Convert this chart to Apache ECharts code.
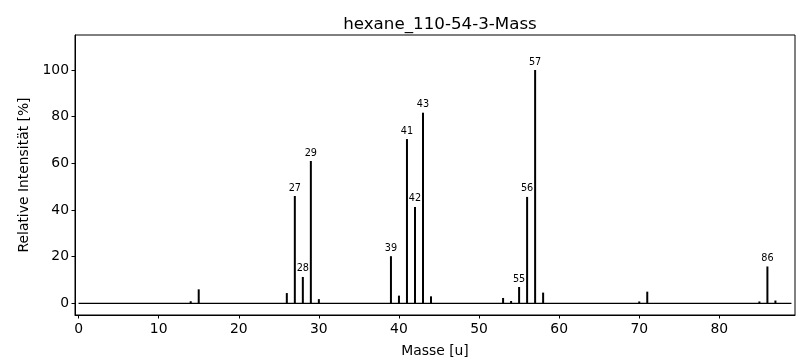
<!DOCTYPE html>
<html>
<head>
<meta charset="utf-8">
<script src="https://cdn.jsdelivr.net/npm/echarts@6/dist/echarts.min.js"></script>
<style>html,body{margin:0;padding:0;background:#fff}#c{width:804px;height:364px}</style>
</head>
<body>
<div id="c"></div>
<script>
const titleText = "hexane_110-54-3-Mass";
const xName = "Masse [u]";
const yName = "Relative Intensität [%]";
const masses = [14,15,26,27,28,29,30,39,40,41,42,43,44,53,54,55,56,57,58,70,71,85,86,87];
const intensities = [0.9,6.0,4.4,46,11.3,61,1.8,20.2,3.3,70.4,41.3,81.7,3.0,2.3,1.0,7.0,45.6,100,4.6,0.8,5.0,0.8,15.8,1.2];
const labeledMasses = [27,28,29,39,41,42,43,55,56,57,86];
const baselineRange = [0, 89];
const xTicks = [0,10,20,30,40,50,60,70,80];
const yTicks = [0,20,40,60,80,100];

const font = "DejaVu Sans";
const chart = echarts.init(document.getElementById('c'), null, {renderer:'canvas'});
const stemData = masses.map((m,i)=>({
  value:[m,intensities[i]],
  label:{show: labeledMasses.includes(m)}
}));
chart.setOption({
  animation:false,
  backgroundColor:'#fff',
  title:{text:titleText,left:435,textAlign:'center',top:11,
    textStyle:{fontFamily:font,fontSize:16.7,fontWeight:'normal',color:'#000'}},
  grid:{left:75,right:9,top:35,bottom:49,show:true,borderColor:'#000',borderWidth:1,backgroundColor:'transparent'},
  xAxis:{type:'value',min:-0.445,max:89.445,
    name:xName,nameLocation:'middle',nameGap:29,
    nameTextStyle:{fontFamily:font,fontSize:13.9,color:'#000'},
    axisLine:{show:true,onZero:false,lineStyle:{color:'#000',width:1}},
    axisTick:{show:true,length:3.5,customValues:xTicks,lineStyle:{color:'#000'}},
    axisLabel:{customValues:xTicks,margin:7,fontFamily:font,fontSize:13.9,color:'#000'},
    splitLine:{show:false}},
  yAxis:{type:'value',min:-5,max:115,
    name:yName,nameLocation:'middle',nameGap:43,
    nameTextStyle:{fontFamily:font,fontSize:13.9,color:'#000'},
    axisLine:{show:true,onZero:false,lineStyle:{color:'#000',width:1}},
    axisTick:{show:true,length:3.5,customValues:yTicks,lineStyle:{color:'#000'}},
    axisLabel:{customValues:yTicks,margin:6,fontFamily:font,fontSize:13.9,color:'#000'},
    splitLine:{show:false}},
  series:[
    {type:'line',data:[[baselineRange[0],0],[baselineRange[1],0]],showSymbol:false,
     lineStyle:{color:'#000',width:1.3},z:1,silent:true},
    {type:'bar',data:stemData,barWidth:2,itemStyle:{color:'#000'},z:2,
     label:{position:'top',distance:3,fontFamily:font,fontSize:9.7,color:'#000',
       formatter:p=>String(p.value[0])}}
  ]
});
</script>
</body>
</html>
